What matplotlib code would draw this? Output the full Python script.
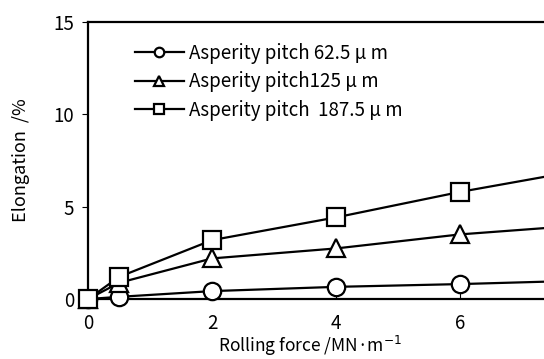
import matplotlib.pyplot as plt

plt.rcParams['font.family'] = ['Noto Sans CJK JP', 'DejaVu Sans']

# rolling force (MN/m) and elongation (%) for three asperity pitches
force = [0, 0.5, 2, 4, 6, 8]
elong_625 = [0, 0.12, 0.43, 0.66, 0.81, 1.0]
elong_125 = [0, 0.88, 2.2, 2.74, 3.5, 4.0]
elong_1875 = [0, 1.2, 3.19, 4.42, 5.8, 7.0]
labels = ["Asperity pitch 62.5 μ m", "Asperity pitch125 μ m", "Asperity pitch  187.5 μ m"]

fig = plt.figure(figsize=(5.44, 3.59), dpi=100)
ax = fig.add_axes([0.162, 0.167, 0.912, 0.772])

style = dict(color='black', lw=1.6, mfc='white', mec='black', mew=1.6, clip_on=False)
ax.plot(force, elong_625, marker='o', ms=12.5, label=labels[0], zorder=3, **style)
ax.plot(force, elong_125, marker='^', ms=12.5, label=labels[1], zorder=3, **style)
ax.plot(force, elong_1875, marker='s', ms=12.5, label=labels[2], zorder=3, **style)

ax.set_xlim(0, 8)
ax.set_ylim(0, 15)
ax.set_xticks([0, 2, 4, 6])
ax.set_yticks([0, 5, 10, 15])
ax.tick_params(axis='x', direction='in', length=4, labelsize=13.5, pad=10)
ax.tick_params(axis='y', direction='out', length=4, labelsize=13.5, pad=6)
for s in ax.spines.values():
    s.set_linewidth(1.6)

ax.set_xlabel("Rolling force /MN·m$^{-1}$", fontsize=12.5)
ax.xaxis.set_label_coords(0.448, -0.127)
ax.set_ylabel("Elongation  /%", fontsize=13, labelpad=17)

ax.legend(loc='upper left', bbox_to_anchor=(0.06, 0.985), frameon=False, fontsize=13.5,
          handlelength=2.6, labelspacing=0.4, handletextpad=0.3, markerscale=0.55)

fig.savefig("out.png", dpi=100)
